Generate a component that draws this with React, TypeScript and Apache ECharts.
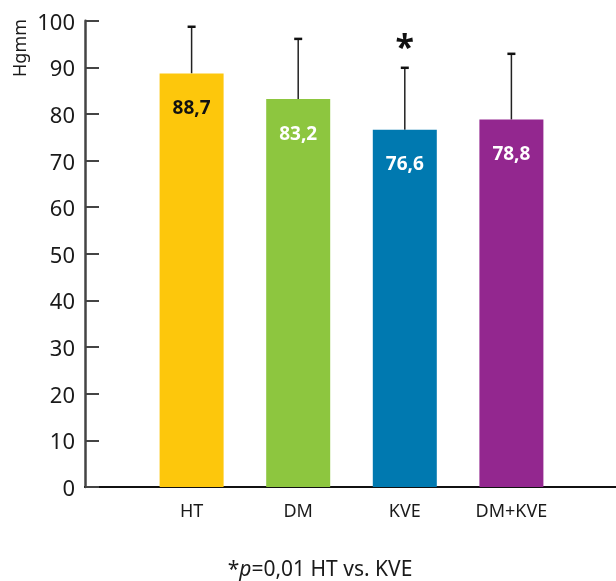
import React, { useEffect, useRef } from "react";
import * as echarts from "echarts";

const categories = ["HT", "DM", "KVE", "DM+KVE"];
const means = [88.7, 83.2, 76.6, 78.8];
const sds = [10.0, 12.9, 13.3, 14.1];
const barColors = ["#fdc70c", "#8dc63f", "#0079b0", "#93278f"];
const labelColors = ["#111111", "#ffffff", "#ffffff", "#ffffff"];
const yTicks = { min: 0, max: 100, interval: 10 };
const axisName = "Hgmm";
const starCategory = "KVE";
const starValue = 94.5;

const FONT = "Noto Sans";

export default function App() {
  const ref = useRef<HTMLDivElement>(null);
  useEffect(() => {
    if (!ref.current) return;
    const chart = echarts.init(ref.current, null, { renderer: "svg" });
    const axisCats = ["", ...categories, ""];
    const barData = [
      "-",
      ...means.map((v, i) => ({
        value: v,
        itemStyle: { color: barColors[i] },
        label: { color: labelColors[i] },
      })),
      "-",
    ];
    const errData = means.map((m, i) => [i + 1, m, m + sds[i]]);
    chart.setOption({
      animation: false,
      textStyle: { fontFamily: FONT },
      grid: { left: 85, right: 0, top: 20.7, bottom: 94 },
      xAxis: {
        type: "category",
        data: axisCats,
        boundaryGap: false,
        axisLine: { show: true, lineStyle: { color: "#111", width: 2 } },
        axisTick: { show: false },
        axisLabel: { fontSize: 18, color: "#1a1a1a", margin: 14, fontFamily: FONT, interval: 0 },
        splitLine: { show: false },
      },
      yAxis: {
        type: "value",
        min: yTicks.min,
        max: yTicks.max,
        interval: yTicks.interval,
        axisLine: { show: true, lineStyle: { color: "#444", width: 2.5 } },
        axisTick: { show: true, inside: true, length: 14, lineStyle: { color: "#444", width: 2 } },
        axisLabel: { fontSize: 22, color: "#1a1a1a", margin: 10, fontFamily: FONT },
        splitLine: { show: false },
      },
      series: [
        {
          type: "bar",
          data: barData,
          barWidth: 64,
          label: {
            show: true,
            position: "insideTop",
            distance: 24,
            fontSize: 19,
            fontWeight: "bold",
            fontFamily: FONT,
            formatter: (p: any) => String(p.value).replace(".", ","),
          },
          markPoint: {
            symbol: "circle",
            symbolSize: 0,
            data: [{ coord: [starCategory, starValue] }],
            label: {
              show: true,
              position: "inside",
              formatter: "*",
              fontSize: 34,
              fontWeight: "bold",
              color: "#111",
              fontFamily: FONT,
            },
          },
        },
        {
          type: "custom",
          data: errData,
          encode: { x: 0, y: [1, 2] },
          z: 1,
          renderItem: (params: any, api: any) => {
            const x = api.value(0);
            const low = api.coord([x, api.value(1)]);
            const high = api.coord([x, api.value(2)]);
            const cap = 4;
            return {
              type: "group",
              children: [
                {
                  type: "line",
                  shape: { x1: low[0], y1: low[1], x2: high[0], y2: high[1] },
                  style: { stroke: "#222", lineWidth: 1.5 },
                },
                {
                  type: "line",
                  shape: { x1: high[0] - cap, y1: high[1], x2: high[0] + cap, y2: high[1] },
                  style: { stroke: "#111", lineWidth: 2.5 },
                },
              ],
            };
          },
        },
      ],
      graphic: [
        {
          type: "text",
          x: 19,
          y: 48,
          rotation: Math.PI / 2,
          style: {
            text: axisName,
            fontSize: 18,
            fontFamily: FONT,
            fill: "#1a1a1a",
            align: "center",
            verticalAlign: "middle",
          },
        },
        {
          type: "text",
          x: 320,
          y: 568,
          style: {
            text: "{a|*}{i|p}{a|=0,01 HT vs. KVE}",
            align: "center",
            verticalAlign: "middle",
            rich: {
              a: { fontSize: 21, fontFamily: FONT, fill: "#1a1a1a" },
              i: { fontSize: 21, fontFamily: FONT, fontStyle: "italic", fill: "#1a1a1a" },
            },
          },
        },
      ],
    });
    return () => chart.dispose();
  }, []);
  return (
    <div
      ref={ref}
      style={{ position: "fixed", left: 0, top: 0, width: 621, height: 581 }}
    />
  );
}
